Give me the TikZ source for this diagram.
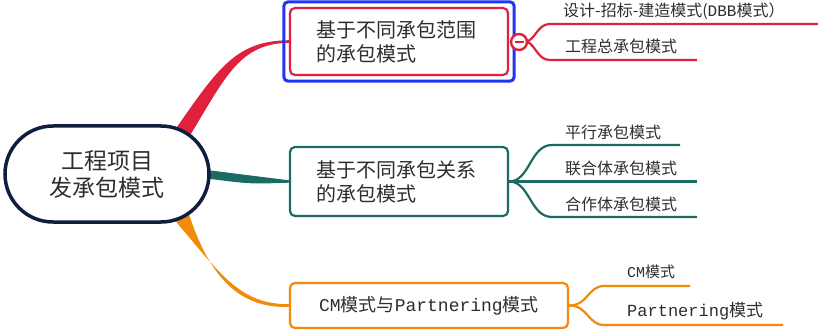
\documentclass[tikz,border=0pt]{standalone}
\usepackage{fontspec}
\setmainfont{Noto Sans CJK SC}
\newfontfamily\latmono{Liberation Mono}
\definecolor{mmNavy}{HTML}{0E1E3F}
\definecolor{mmRed}{HTML}{E0213D}
\definecolor{mmBlue}{HTML}{1F35F2}
\definecolor{mmTeal}{HTML}{1B6B63}
\definecolor{mmOrange}{HTML}{F28A0A}
\definecolor{mmText}{HTML}{2E2E2E}
\usetikzlibrary{calc, fit, backgrounds}

\tikzset{
  topic/.style={draw, line width=2.2pt, rounded corners=5pt, fill=white, text=mmText, inner sep=0pt},
  leaf/.style={anchor=west, text=mmText, font=\fontsize{16}{18}\selectfont, inner sep=0pt},
  twig/.style={line width=2.2pt},
}

\begin{document}
\begin{tikzpicture}[x=1pt, y=-1pt]
  \useasboundingbox (0,0) rectangle (818,331);

  \node[draw=mmNavy, line width=3.5pt, rounded corners=48pt, fill=white, minimum width=204pt, minimum height=96pt,
        align=center, text=mmText, font=\fontsize{23}{27}\selectfont] (root) at (107,174) {工程项目\\发承包模式};

  \node[topic, draw=mmRed, minimum width=218pt, minimum height=67pt, text width=166pt, align=left,
        font=\fontsize{20}{24}\selectfont] (b1) at (399,41.5) {基于不同承包范围\\的承包模式};
  \node[fit=(b1), draw=mmBlue, line width=3pt, rounded corners=4pt, inner sep=5pt] (b1sel) {};
  \node[topic, draw=mmTeal, minimum width=218pt, minimum height=69pt, text width=166pt, align=left,
        font=\fontsize{20}{24}\selectfont] (b2) at (399,181.5) {基于不同承包关系\\的承包模式};
  \node[topic, draw=mmOrange, minimum width=278pt, minimum height=45pt,
        font=\fontsize{18}{22}\selectfont] (b3) at (429,305.5) {{\latmono CM}模式与{\latmono Partnering}模式};

  \begin{scope}[on background layer]
    \fill[mmRed] ($(root.north east)+(-36,6)$) .. controls (218,68) and (236,40.8) .. ($(b1.west)+(0,-1.3)$)
      -- ($(b1.west)+(0,1.3)$) .. controls (240,43.5) and (226,76) .. ($(root.north east)+(-20,10)$) -- cycle;
    \fill[mmTeal] ($(root.east)+(-8,-3.5)$) -- ($(root.east)+(0,-3.5)$) .. controls (250,176) .. ($(b2.west)+(0,-1.2)$)
      -- ($(b2.west)+(0,1.2)$) .. controls (250,184) .. ($(root.east)+(0,5)$) -- ($(root.east)+(-8,5)$) -- cycle;
    \fill[mmOrange] ($(root.south east)+(-38,-6)$) .. controls (222,276) and (240,304.2) .. ($(b3.west)+(0,-1.3)$)
      -- ($(b3.west)+(0,1.3)$) .. controls (236,309) and (208,272) .. ($(root.south east)+(-22,-10)$) -- cycle;
  \end{scope}

  % red leaves
  \coordinate (r1a) at (550,24);  \coordinate (r1b) at (818,24);
  \coordinate (r2a) at (550,60);  \coordinate (r2b) at (697,60);
  \draw[twig, mmRed] (b1.east) ++(18,0) .. controls (536,38) and (538,24) .. (r1a) -- (r1b);
  \draw[twig, mmRed] (b1.east) ++(18,0) .. controls (536,46) and (538,60) .. (r2a) -- (r2b);
  \node[circle, draw=mmRed, line width=2.4pt, fill=white, minimum size=16pt, inner sep=0pt] (fold) at (519,42) {};
  \draw[mmRed, line width=2pt] ($(fold.center)+(-4.5,0)$) -- ($(fold.center)+(4.5,0)$);
  \node[leaf] (r1) at (563,11) {设计-招标-建造模式({\latmono DBB}模式）};
  \node[leaf] (r2) at (565,46) {工程总承包模式};

  % teal leaves
  \coordinate (t1a) at (552,145);   \coordinate (t1b) at (680,145);
  \coordinate (t2b) at (697,181.5);
  \coordinate (t3a) at (552,217);   \coordinate (t3b) at (697,217);
  \draw[twig, mmTeal] (b2.east) .. controls (530,181.5) and (530,145) .. (t1a) -- (t1b);
  \draw[twig, mmTeal] (b2.east) -- (t2b);
  \draw[twig, mmTeal] (b2.east) .. controls (530,181.5) and (530,217) .. (t3a) -- (t3b);
  \node[leaf] (t1) at (565,132) {平行承包模式};
  \node[leaf] (t2) at (565,168) {联合体承包模式};
  \node[leaf] (t3) at (565,204) {合作体承包模式};

  % orange leaves
  \coordinate (o1a) at (604,286);   \coordinate (o1b) at (690,286);
  \coordinate (o2a) at (604,325);   \coordinate (o2b) at (783,325);
  \draw[twig, mmOrange] (b3.east) .. controls (588,305.5) and (588,286) .. (o1a) -- (o1b);
  \draw[twig, mmOrange] (b3.east) .. controls (588,305.5) and (588,325) .. (o2a) -- (o2b);
  \node[leaf, font=\fontsize{15}{17}\selectfont] (o1) at (627,272) {{\latmono CM}模式};
  \node[leaf, font=\fontsize{17}{19}\selectfont] (o2) at (627,311) {{\latmono Partnering}模式};
\end{tikzpicture}
\end{document}
